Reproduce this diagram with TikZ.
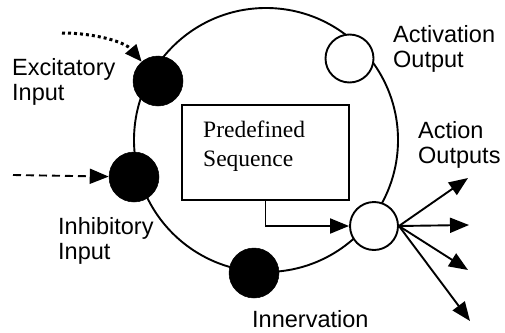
\documentclass[tikz,border=0pt]{standalone}
\usepackage{fontspec}
\setmainfont{Liberation Sans}
\newfontfamily\serifface{Liberation Serif}
\usetikzlibrary{arrows.meta}

\begin{document}
\begin{tikzpicture}[x=1pt,y=-1pt,
  wire/.style={line width=1.9pt},
  tipped/.style={wire,-{Triangle[length=19pt,width=15pt]}},
  blob/.style={circle,fill=black,draw=black,line width=0.5pt,minimum size=50pt,inner sep=0pt},
  port/.style={circle,fill=white,draw=black,line width=1.9pt,minimum size=48pt,inner sep=0pt},
  % multi-line labels: the base anchor sits on the last line
  lbl/.style={anchor=base west,inner sep=0pt,align=left,font=\fontsize{23.5}{25}\selectfont},
  seqlbl/.style={lbl,font=\serifface\fontsize{23.5}{29}\selectfont},
]
\useasboundingbox (0,0) rectangle (505,332);

% the cell body
\node[circle,draw,line width=1.9pt,minimum size=264pt,inner sep=0pt] (cell) at (266,140) {};

% input, innervation and output sites on the ring
\node[blob] (exc) at (158,81) {};
\node[blob] (inh) at (134,177) {};
\node[blob] (inn) at (254,273) {};
\node[port] (actv) at (349.5,58.5) {};
\node[port] (act) at (374,226) {};

% internal program
\node[draw,line width=1.9pt,minimum width=167pt,minimum height=95pt,inner sep=0pt] (seq) at (265.5,152.5) {};
\node[seqlbl] (seqtxt) at (203,166) {Predefined\\Sequence};
\draw[tipped] (seq.south) |- (act.west);

% incoming signals
\coordinate (exin) at (62,33);
\coordinate (inin) at (13,175);
\draw[line width=3pt,dash pattern=on 3pt off 3pt,-{Triangle[length=17pt,width=14pt]}]
  (exin) .. controls (95,33) and (125,42) .. (exc);
\draw[tipped,dash pattern=on 8pt off 5pt] (inin) -- (inh);

% action outputs
\coordinate (o1) at (468,178);
\coordinate (o2) at (469,225);
\coordinate (o3) at (468,270);
\coordinate (o4) at (470,321);
\foreach \o in {o1,o2,o3,o4} \draw[tipped] (act.east) -- (\o);

% labels
\node[lbl] (exclbl) at (12,100) {Excitatory\\Input};
\node[lbl] (inhlbl) at (58,259) {Inhibitory\\Input};
\node[lbl] (innlbl) at (252,327) {Innervation};
\node[lbl] (actvlbl) at (393,67) {Activation\\Output};
\node[lbl] (actlbl) at (418,163) {Action\\Outputs};
\end{tikzpicture}
\end{document}
